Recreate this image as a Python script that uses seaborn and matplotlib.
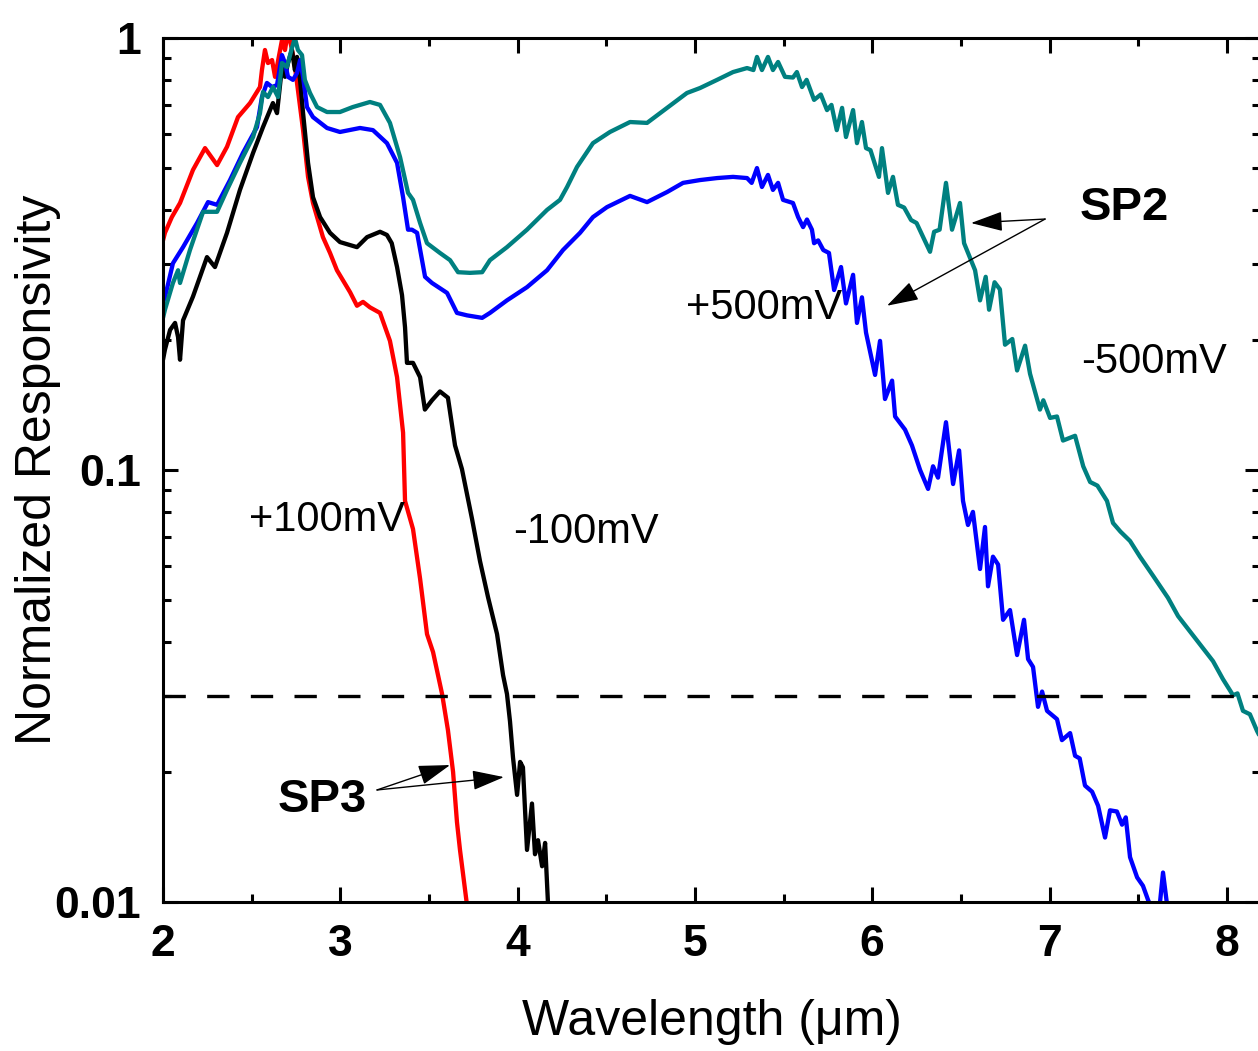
import numpy as np
import pandas as pd
import matplotlib
matplotlib.use("Agg")
import matplotlib.pyplot as plt
import seaborn as sns
from matplotlib.ticker import FixedLocator, FixedFormatter, LogLocator, MultipleLocator, NullFormatter

# ---------------- data ----------------
red_x = [2.00, 2.011, 2.05, 2.096, 2.169, 2.237, 2.305, 2.361, 2.423, 2.491, 2.547, 2.558, 2.575, 2.592,
         2.615, 2.632, 2.671, 2.688, 2.699, 2.716, 2.739, 2.761, 2.790, 2.818, 2.846, 2.902, 2.942, 2.981,
         3.055, 3.094, 3.128, 3.167, 3.224, 3.280, 3.320, 3.354, 3.365, 3.410, 3.450, 3.489, 3.523, 3.574,
         3.607, 3.636, 3.658, 3.675, 3.715]
red_y = [0.340, 0.354, 0.385, 0.415, 0.495, 0.556, 0.508, 0.560, 0.656, 0.707, 0.770, 0.843, 0.938, 0.875,
         0.889, 0.813, 0.989, 0.938, 1.0, 0.989, 0.889, 0.758, 0.612, 0.477, 0.415, 0.346, 0.318, 0.290,
         0.258, 0.240, 0.245, 0.238, 0.231, 0.199, 0.164, 0.122, 0.0848, 0.0730, 0.0560, 0.0417, 0.0379, 0.0303,
         0.0250, 0.0200, 0.0153, 0.0132, 0.0098]

black_x = [2.0, 2.011, 2.04, 2.068, 2.085, 2.096, 2.113, 2.169, 2.248, 2.293, 2.361, 2.434, 2.508, 2.564,
           2.620, 2.643, 2.671, 2.688, 2.705, 2.727, 2.744, 2.756, 2.773, 2.790, 2.818, 2.846, 2.886, 2.942,
           2.998, 3.094, 3.151, 3.224, 3.263, 3.290, 3.320, 3.348, 3.365, 3.376, 3.41, 3.45, 3.477, 3.517,
           3.562, 3.607, 3.647, 3.686, 3.743, 3.788, 3.833, 3.884, 3.918, 3.94, 3.957, 3.974, 3.997, 4.014,
           4.03, 4.053, 4.081, 4.098, 4.115, 4.138, 4.155, 4.172]
black_y = [0.180, 0.190, 0.211, 0.219, 0.203, 0.180, 0.222, 0.252, 0.311, 0.295, 0.354, 0.445, 0.542, 0.622,
           0.707, 0.670, 0.857, 0.813, 0.875, 0.938, 0.843, 0.904, 0.800, 0.670, 0.514, 0.428, 0.385, 0.354,
           0.337, 0.328, 0.346, 0.356, 0.350, 0.335, 0.295, 0.254, 0.214, 0.177, 0.177, 0.164, 0.138, 0.145,
           0.152, 0.147, 0.114, 0.1005, 0.077, 0.0615, 0.0508, 0.0417, 0.0335, 0.0303, 0.0262, 0.0216, 0.0177, 0.0211,
           0.0205, 0.0132, 0.0169, 0.0129, 0.0139, 0.0121, 0.0137, 0.0098]

blue_x = [2.0, 2.011, 2.056, 2.113, 2.192, 2.254, 2.305, 2.378, 2.451, 2.53, 2.558, 2.586, 2.615, 2.643,
          2.671, 2.688, 2.705, 2.733, 2.756, 2.773, 2.790, 2.812, 2.846, 2.925, 2.998, 3.111, 3.184, 3.263,
          3.32, 3.354, 3.382, 3.404, 3.433, 3.478, 3.517, 3.602, 3.658, 3.715, 3.80, 3.844, 3.94, 4.053,
          4.166, 4.256, 4.352, 4.425, 4.504, 4.634, 4.73, 4.843, 4.933, 5.029, 5.125, 5.215, 5.294, 5.32,
          5.35, 5.378, 5.412, 5.44, 5.469, 5.497, 5.553, 5.582, 5.61, 5.632, 5.66, 5.672, 5.695, 5.724,
          5.756, 5.785, 5.824, 5.852, 5.892, 5.914, 5.942, 5.965, 6.016, 6.044, 6.072, 6.112, 6.129, 6.185,
          6.224, 6.27, 6.315, 6.343, 6.371, 6.416, 6.456, 6.49, 6.512, 6.54, 6.568, 6.608, 6.636, 6.653,
          6.681, 6.71, 6.738, 6.777, 6.817, 6.856, 6.879, 6.907, 6.935, 6.958, 6.986, 7.042, 7.07, 7.116,
          7.144, 7.17, 7.20, 7.24, 7.274, 7.313, 7.341, 7.38, 7.409, 7.43, 7.454, 7.494, 7.527, 7.556,
          7.575, 7.62, 7.64, 7.665]
blue_y = [0.245, 0.251, 0.301, 0.328, 0.373, 0.417, 0.411, 0.469, 0.542, 0.622, 0.730, 0.787, 0.770, 0.778,
          0.913, 0.875, 0.813, 0.800, 0.830, 0.889, 0.813, 0.692, 0.656, 0.619, 0.606, 0.619, 0.612, 0.571,
          0.514, 0.428, 0.360, 0.360, 0.354, 0.280, 0.271, 0.257, 0.231, 0.228, 0.225, 0.231, 0.247, 0.265,
          0.290, 0.323, 0.354, 0.385, 0.406, 0.431, 0.417, 0.440, 0.462, 0.469, 0.474, 0.477, 0.474, 0.462,
          0.500, 0.452, 0.482, 0.445, 0.462, 0.422, 0.415, 0.385, 0.365, 0.380, 0.360, 0.335, 0.340, 0.323,
          0.318, 0.261, 0.295, 0.243, 0.283, 0.219, 0.251, 0.208, 0.166, 0.199, 0.146, 0.161, 0.133, 0.124,
          0.114, 0.100, 0.0904, 0.102, 0.096, 0.129, 0.0928, 0.111, 0.0848, 0.0746, 0.080, 0.059, 0.0738, 0.0538,
          0.063, 0.0604, 0.045, 0.0474, 0.0373, 0.045, 0.0365, 0.035, 0.0283, 0.0307, 0.0277, 0.0265, 0.0237, 0.0246,
          0.0218, 0.0215, 0.0186, 0.018, 0.0167, 0.0141, 0.0163, 0.0162, 0.0151, 0.0157, 0.0127, 0.0114, 0.0109, 0.0101,
          0.0097, 0.0097, 0.0117, 0.0097]

teal_x = [2.0, 2.011, 2.056, 2.085, 2.096, 2.152, 2.226, 2.305, 2.361, 2.434, 2.508, 2.547, 2.564, 2.592,
          2.620, 2.649, 2.671, 2.699, 2.727, 2.744, 2.761, 2.784, 2.80, 2.829, 2.869, 2.925, 2.998, 3.07,
          3.167, 3.224, 3.28, 3.337, 3.382, 3.41, 3.45, 3.489, 3.562, 3.619, 3.664, 3.731, 3.80, 3.844,
          3.94, 4.053, 4.166, 4.239, 4.279, 4.335, 4.425, 4.521, 4.634, 4.73, 4.843, 4.955, 5.029, 5.125,
          5.215, 5.294, 5.33, 5.35, 5.378, 5.412, 5.44, 5.469, 5.508, 5.553, 5.575, 5.604, 5.63, 5.672,
          5.71, 5.745, 5.77, 5.80, 5.83, 5.852, 5.892, 5.914, 5.942, 5.965, 5.99, 6.038, 6.055, 6.089,
          6.117, 6.145, 6.18, 6.219, 6.25, 6.287, 6.326, 6.349, 6.38, 6.416, 6.45, 6.495, 6.518, 6.55,
          6.58, 6.608, 6.64, 6.659, 6.69, 6.72, 6.749, 6.79, 6.817, 6.862, 6.89, 6.946, 6.965, 7.003,
          7.042, 7.076, 7.144, 7.19, 7.229, 7.27, 7.324, 7.358, 7.40, 7.454, 7.51, 7.584, 7.668, 7.725,
          7.804, 7.866, 7.922, 7.978, 8.035, 8.06, 8.091, 8.13, 8.17, 8.19]
teal_y = [0.225, 0.235, 0.271, 0.290, 0.271, 0.323, 0.396, 0.396, 0.445, 0.514, 0.590, 0.670, 0.750, 0.730,
          0.770, 0.730, 0.875, 0.857, 0.948, 1.0, 0.938, 0.913, 0.800, 0.746, 0.692, 0.674, 0.674, 0.692,
          0.711, 0.700, 0.636, 0.530, 0.438, 0.422, 0.373, 0.335, 0.318, 0.306, 0.287, 0.286, 0.287, 0.306,
          0.328, 0.360, 0.400, 0.422, 0.452, 0.503, 0.571, 0.606, 0.639, 0.636, 0.689, 0.746, 0.766, 0.800,
          0.834, 0.852, 0.843, 0.904, 0.843, 0.904, 0.843, 0.880, 0.813, 0.810, 0.834, 0.770, 0.800, 0.719,
          0.740, 0.681, 0.700, 0.612, 0.689, 0.590, 0.681, 0.571, 0.639, 0.556, 0.550, 0.477, 0.556, 0.438,
          0.477, 0.411, 0.405, 0.379, 0.373, 0.346, 0.320, 0.356, 0.360, 0.462, 0.360, 0.415, 0.335, 0.311,
          0.290, 0.247, 0.280, 0.235, 0.272, 0.262, 0.195, 0.201, 0.170, 0.194, 0.167, 0.138, 0.145, 0.132,
          0.133, 0.117, 0.120, 0.102, 0.0938, 0.092, 0.0848, 0.0754, 0.072, 0.0685, 0.063, 0.0569, 0.0506, 0.0459,
          0.0417, 0.0387, 0.0361, 0.0328, 0.0301, 0.0304, 0.0277, 0.0272, 0.0249, 0.0240]

threshold = 0.03

curve_labels = ["+100mV", "-100mV", "+500mV", "-500mV"]
label_pos_x = [2.925, 4.386, 5.39, 7.59]
label_pos_y = [0.0766, 0.0719, 0.237, 0.178]

for xs, ys in [(red_x, red_y), (black_x, black_y), (blue_x, blue_y), (teal_x, teal_y)]:
    assert len(xs) == len(ys)

# ---------------- styling ----------------
sns.set_theme(style="white")
plt.rcParams['font.family'] = ['Liberation Sans', 'DejaVu Sans']
for key in ['text.color', 'axes.labelcolor', 'xtick.color', 'ytick.color', 'axes.edgecolor']:
    plt.rcParams[key] = 'black'

fig = plt.figure(figsize=(12.58, 10.51), dpi=100)
ax = fig.add_axes([163 / 1258, 1 - 902 / 1051, 1097 / 1258, 864 / 1051])

series = [
    ("+100mV", red_x, red_y, "#FF0000"),
    ("-100mV", black_x, black_y, "#000000"),
    ("+500mV", blue_x, blue_y, "#0000FF"),
    ("-500mV", teal_x, teal_y, "#008080"),
]
for name, xs, ys, col in series:
    df = pd.DataFrame({"x": xs, "y": ys})
    sns.lineplot(data=df, x="x", y="y", ax=ax, color=col, lw=3.1, sort=False,
                 estimator=None, legend=False)

ax.axhline(threshold, color="black", lw=2.4, linestyle=(0, (6.7, 6.4)))

ax.set_yscale("log")
ax.set_xlim(2.0, 8.187)
ax.set_ylim(0.01, 1.0)

ax.yaxis.set_major_locator(FixedLocator([0.01, 0.1, 1.0]))
ax.yaxis.set_major_formatter(FixedFormatter(["0.01", "0.1", "1"]))
ax.yaxis.set_minor_locator(LogLocator(base=10, subs=np.arange(2, 10)))
ax.yaxis.set_minor_formatter(NullFormatter())
ax.xaxis.set_major_locator(MultipleLocator(1))
ax.xaxis.set_minor_locator(MultipleLocator(0.5))

for s in ax.spines.values():
    s.set_linewidth(2.2)
    s.set_color("black")

ax.tick_params(which="both", direction="in", top=True, right=True, bottom=True, left=True,
               width=2.2, color="black", labelcolor="black")
ax.tick_params(which="major", length=11, labelsize=32, pad=16)
ax.tick_params(which="minor", length=6)
for lab in ax.get_xticklabels() + ax.get_yticklabels():
    lab.set_fontweight("bold")

ax.set_xlabel("Wavelength (\u03bcm)", fontsize=36, color="black")
ax.set_ylabel("Normalized Responsivity", fontsize=36, color="black")
ax.xaxis.set_label_coords(0.5, -0.112)
ax.yaxis.set_label_coords(-0.093, 0.5)

for t, xx, yy in zip(curve_labels, label_pos_x, label_pos_y):
    ax.text(xx, yy, t, fontsize=30, ha="center", va="center", color="black")

ax.text(7.42, 0.405, "SP2", fontsize=34, fontweight="bold", ha="center", va="center", color="black")
ax.text(2.897, 0.0172, "SP3", fontsize=34, fontweight="bold", ha="center", va="center", color="black")

arrow_kw = dict(arrowstyle="-|>,head_length=0.9,head_width=0.28", color="black", lw=1.0,
                mutation_scale=22, shrinkA=0, shrinkB=0)
for head in [(6.557, 0.373), (6.083, 0.240)]:
    ax.annotate("", xy=head, xytext=(6.975, 0.381), arrowprops=arrow_kw)
for head in [(3.619, 0.02075), (3.923, 0.01946)]:
    ax.annotate("", xy=head, xytext=(3.207, 0.01817), arrowprops=arrow_kw)

ax.set_facecolor("white")
fig.patch.set_facecolor("white")
fig.savefig("out.png", dpi=100, facecolor="white")
